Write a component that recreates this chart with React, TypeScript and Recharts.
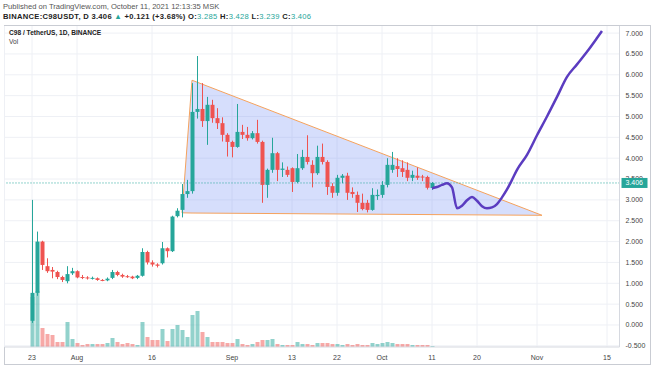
import React from "react";
import {
  ComposedChart,
  Bar,
  Area,
  Line,
  XAxis,
  YAxis,
  CartesianGrid,
  ReferenceLine,
  Cell,
} from "recharts";

const UP = "#26a69a";
const DOWN = "#ef5350";
const FONT = "'Liberation Sans', Arial, sans-serif";

// daily candles C98/USDT, Jul 23 -> Oct 11 2021 (index = days since Jul 23)
const opens = [
  0.1, 0.77, 2.0, 1.41, 1.32, 1.27, 1.15, 1.05, 1.24, 1.29,
  1.15, 1.14, 1.13, 1.12, 1.08, 1.07, 1.13, 1.27, 1.2, 1.17,
  1.16, 1.13, 1.18, 1.75, 1.5, 1.45, 1.48, 1.84, 1.77, 2.61,
  2.76, 3.14, 3.21, 5.11, 5.18, 4.89, 5.28, 4.96, 4.84, 4.56,
  4.39, 4.27, 4.63, 4.56, 4.48, 4.6, 4.39, 3.36, 3.72, 4.12,
  3.72, 3.72, 3.76, 3.43, 3.76, 4.03, 3.84, 3.64, 4.03, 3.91,
  3.33, 3.17, 3.53, 3.58, 3.19, 3.12, 2.93, 2.93, 2.76, 3.09,
  3.12, 3.36, 3.72, 3.81, 3.76, 3.72, 3.53, 3.58, 3.56, 3.55,
  3.285,
];
const highs = [
  3.0, 2.24, 2.02, 1.6, 1.39, 1.3, 1.18, 1.41, 1.37, 1.31,
  1.2, 1.17, 1.16, 1.14, 1.1, 1.14, 1.32, 1.3, 1.23, 1.2,
  1.18, 1.2, 1.84, 1.78, 1.55, 1.48, 1.99, 1.86, 2.62, 2.8,
  3.38, 3.48, 5.8, 6.45, 5.8, 5.47, 5.4, 5.2, 4.98, 4.6,
  4.42, 5.3, 4.8, 4.75, 4.65, 4.92, 4.42, 3.75, 4.49, 4.15,
  3.9, 3.8, 3.78, 4.1, 4.2, 4.55, 3.95, 4.3, 4.35, 3.95,
  3.4, 3.6, 3.62, 3.65, 3.3, 3.2, 3.15, 3.0, 3.28, 3.25,
  3.45, 4.0, 4.15, 4.0, 3.95, 3.9, 3.7, 3.78, 3.6, 3.58,
  3.428,
];
const lows = [
  0.05, 0.7, 1.32, 1.25, 1.12, 1.1, 1.03, 1.0, 1.2, 1.12,
  1.1, 1.09, 1.09, 1.06, 1.05, 1.05, 1.1, 1.17, 1.13, 1.13,
  1.1, 1.1, 1.16, 1.45, 1.4, 1.38, 1.45, 1.62, 1.75, 2.58,
  2.58, 3.05, 3.15, 4.95, 4.75, 4.32, 4.85, 4.7, 4.4, 4.04,
  4.02, 4.25, 4.46, 4.42, 4.45, 4.35, 2.93, 3.05, 3.65, 3.45,
  3.55, 3.55, 3.19, 3.4, 3.72, 3.85, 3.3, 3.6, 3.85, 3.12,
  3.05, 3.1, 3.4, 3.0, 3.05, 2.71, 2.75, 2.7, 2.74, 3.0,
  3.05, 3.3, 3.65, 3.55, 3.55, 3.45, 3.45, 3.48, 3.45, 3.25,
  3.239,
];
const closes = [
  0.77, 2.0, 1.44, 1.29, 1.28, 1.15, 1.08, 1.22, 1.29, 1.14,
  1.14, 1.13, 1.13, 1.08, 1.07, 1.11, 1.27, 1.2, 1.16, 1.16,
  1.12, 1.18, 1.75, 1.5, 1.45, 1.42, 1.84, 1.77, 2.6, 2.74,
  3.14, 3.21, 5.11, 5.18, 4.89, 5.28, 4.96, 4.84, 4.56, 4.39,
  4.27, 4.63, 4.56, 4.48, 4.6, 4.39, 3.36, 3.72, 4.12, 3.72,
  3.75, 3.6, 3.43, 3.76, 4.03, 3.91, 3.64, 4.03, 3.91, 3.31,
  3.17, 3.53, 3.58, 3.17, 3.14, 2.93, 2.78, 2.76, 3.12, 3.12,
  3.36, 3.84, 3.84, 3.74, 3.67, 3.53, 3.6, 3.53, 3.55, 3.29,
  3.406,
];
// volume, millions C98 (rough)
const volumes = [
  50, 56, 19, 13, 12, 5, 5, 25, 8, 4,
  2, 3, 3, 3, 3, 4, 9, 5, 3, 4,
  3, 2, 25, 10, 7, 7, 18, 6, 18, 22,
  17, 10, 32, 36, 15, 10, 5, 5, 5, 4,
  4, 8, 3, 2, 3, 5, 7, 7, 8, 3,
  2, 2, 2, 5, 3, 3, 2, 4, 4, 4,
  3, 3, 2, 3, 2, 3, 2, 2, 4, 3,
  4, 5, 4, 3, 3, 3, 2, 2, 2, 2,
  1,
];

const tickDays = [0, 9, 24, 40, 52, 61, 70, 80, 89, 101, 115];
const tickLabels = ["23", "Aug", "16", "Sep", "13", "22", "Oct", "11", "20", "Nov", "15"];
const priceTicks = [-0.5, 0, 0.5, 1, 1.5, 2, 2.5, 3, 3.5, 4, 4.5, 5, 5.5, 6, 6.5, 7];

// descending triangle drawing
const triDays = [30, 32, 102];
const triLow = [2.69, 2.685, 2.63];
const triHigh = [2.69, 5.87, 2.63];

// hand-drawn projection
const projDays = [80, 81, 82, 83, 84, 85, 86, 87, 88, 89, 90, 91, 92, 93, 94, 95, 96, 97, 99, 101, 103, 105, 107, 109, 111, 113, 114];
const projPrices = [3.28, 3.31, 3.36, 3.4, 3.3, 2.8, 2.86, 2.99, 3.07, 2.98, 2.85, 2.8, 2.82, 2.9, 3.06, 3.25, 3.48, 3.72, 4.08, 4.55, 5.0, 5.47, 5.95, 6.25, 6.55, 6.88, 7.05];

const FIRST_DAY = -5;
const LAST_DAY = 117;

const rows: any[] = [];
for (let d = FIRST_DAY; d <= LAST_DAY; d++) {
  const row: any = { day: d };
  if (d >= 0 && d < closes.length) {
    row.range = [lows[d], highs[d]];
    row.open = opens[d];
    row.close = closes[d];
    row.vol = volumes[d];
  }
  const t = triDays.indexOf(d);
  if (t >= 0) row.tri = [triLow[t], triHigh[t]];
  const p = projDays.indexOf(d);
  if (p >= 0) row.proj = projPrices[p];
  rows.push(row);
}

const lastClose = closes[closes.length - 1];
// last price is drawn last so its tag sits on top of the 3.500 label
const axisTicks = [...priceTicks, lastClose];

const Candle = (props: any) => {
  const { x, y, width, height, payload } = props;
  if (!payload || payload.range == null) return null;
  const [lo, hi] = payload.range;
  const top = Math.min(y, y + height);
  const h = Math.abs(height);
  const py = (p: number) => (hi === lo ? top : top + ((hi - p) / (hi - lo)) * h);
  const color = payload.close >= payload.open ? UP : DOWN;
  const bt = py(Math.max(payload.open, payload.close));
  const bb = py(Math.min(payload.open, payload.close));
  const wx = Math.round(x + width / 2 - 0.5);
  return (
    <g>
      <rect x={wx} y={top} width={1} height={h} fill={color} />
      <rect x={x} y={bt} width={width} height={Math.max(1, bb - bt)} fill={color} />
    </g>
  );
};

const PriceTick = (props: any) => {
  const { x, y, payload } = props;
  const v = payload.value;
  if (v === lastClose) {
    return (
      <g>
        <rect x={x - 4} y={y - 5} width={26} height={10} fill={UP} />
        <text x={x} y={y} dy="0.35em" fontSize={7} fontFamily={FONT} fill="#fff">
          {v.toFixed(3)}
        </text>
      </g>
    );
  }
  return (
    <text x={x} y={y} dy="0.35em" fontSize={7} fontFamily={FONT} fill="#444">
      {v.toFixed(3)}
    </text>
  );
};

const App: React.FC = () => {
  return (
    <div
      style={{
        position: "absolute",
        left: 0,
        top: 0,
        width: 654,
        height: 366,
        background: "#fff",
        fontFamily: FONT,
        overflow: "hidden",
      }}
    >
      <div style={{ position: "absolute", left: 3, top: 2, fontSize: 7.6, color: "#555", whiteSpace: "nowrap" }}>
        Published on TradingView.com, October 11, 2021 12:13:35 MSK
      </div>
      <div
        style={{
          position: "absolute",
          left: 3,
          top: 11.5,
          fontSize: 7.6,
          letterSpacing: 0.3,
          color: "#222",
          fontWeight: 600,
          whiteSpace: "nowrap",
        }}
      >
        BINANCE:C98USDT, D 3.406 <span style={{ color: UP }}>▲</span> +0.121 (+3.68%) O:
        <span style={{ color: UP, fontWeight: 400 }}>3.285</span> H:
        <span style={{ color: UP, fontWeight: 400 }}>3.428</span> L:
        <span style={{ color: UP, fontWeight: 400 }}>3.239</span> C:
        <span style={{ color: UP, fontWeight: 400 }}>3.406</span>
      </div>
      <div
        style={{
          position: "absolute",
          left: 4,
          top: 25,
          width: 647,
          height: 340,
          border: "1px solid #c9ccd3",
          boxSizing: "border-box",
        }}
      />
      <ComposedChart
        width={654}
        height={366}
        data={rows}
        margin={{ top: 26, right: 0, bottom: 0, left: 4.5 }}
      >
        <CartesianGrid yAxisId="price" stroke="#eef0f5" strokeWidth={1} horizontalValues={priceTicks} />
        <XAxis
          dataKey="day"
          type="category"
          ticks={tickDays}
          interval={0}
          tickFormatter={(d: number) => tickLabels[tickDays.indexOf(d)]}
          tickLine={false}
          axisLine={{ stroke: "#d6d9e0" }}
          tick={{ fontSize: 7, fill: "#444", fontFamily: FONT }}
          height={19}
        />
        <XAxis xAxisId="v" dataKey="day" type="category" hide />
        <YAxis
          yAxisId="price"
          orientation="right"
          type="number"
          domain={[-0.528, 7.17]}
          allowDataOverflow
          ticks={axisTicks}
          interval={0}
          tick={<PriceTick />}
          tickLine={false}
          tickMargin={0}
          axisLine={{ stroke: "#d6d9e0" }}
          width={34.5}
        />
        <YAxis yAxisId="vol" type="number" domain={[0, 321]} hide />
        <Bar xAxisId="v" yAxisId="vol" dataKey="vol" barSize={4} isAnimationActive={false}>
          {rows.map((r, i) => (
            <Cell
              key={i}
              fill={r.close >= r.open ? "rgba(38,166,154,0.5)" : "rgba(239,83,80,0.5)"}
            />
          ))}
        </Bar>
        <ReferenceLine yAxisId="price" y={lastClose} stroke={UP} strokeDasharray="1 2" />
        <Area
          yAxisId="price"
          dataKey="tri"
          type="linear"
          connectNulls
          stroke="#f5a25d"
          strokeWidth={1}
          fill="rgb(120,145,245)"
          fillOpacity={0.3}
          dot={false}
          activeDot={false}
          isAnimationActive={false}
        />
        <Bar
          yAxisId="price"
          dataKey="range"
          barSize={4}
          shape={<Candle />}
          isAnimationActive={false}
        />
        <Line
          yAxisId="price"
          dataKey="proj"
          type="monotone"
          connectNulls
          stroke="#5b3cc0"
          strokeWidth={2.5}
          dot={false}
          activeDot={false}
          isAnimationActive={false}
        />
      </ComposedChart>
      <div style={{ position: "absolute", left: 9, top: 29, fontSize: 6.6, color: "#222", fontWeight: 600 }}>
        C98 / TetherUS, 1D, BINANCE
      </div>
      <div style={{ position: "absolute", left: 9, top: 38, fontSize: 6.6, color: "#444" }}>Vol</div>
    </div>
  );
};

export default App;
